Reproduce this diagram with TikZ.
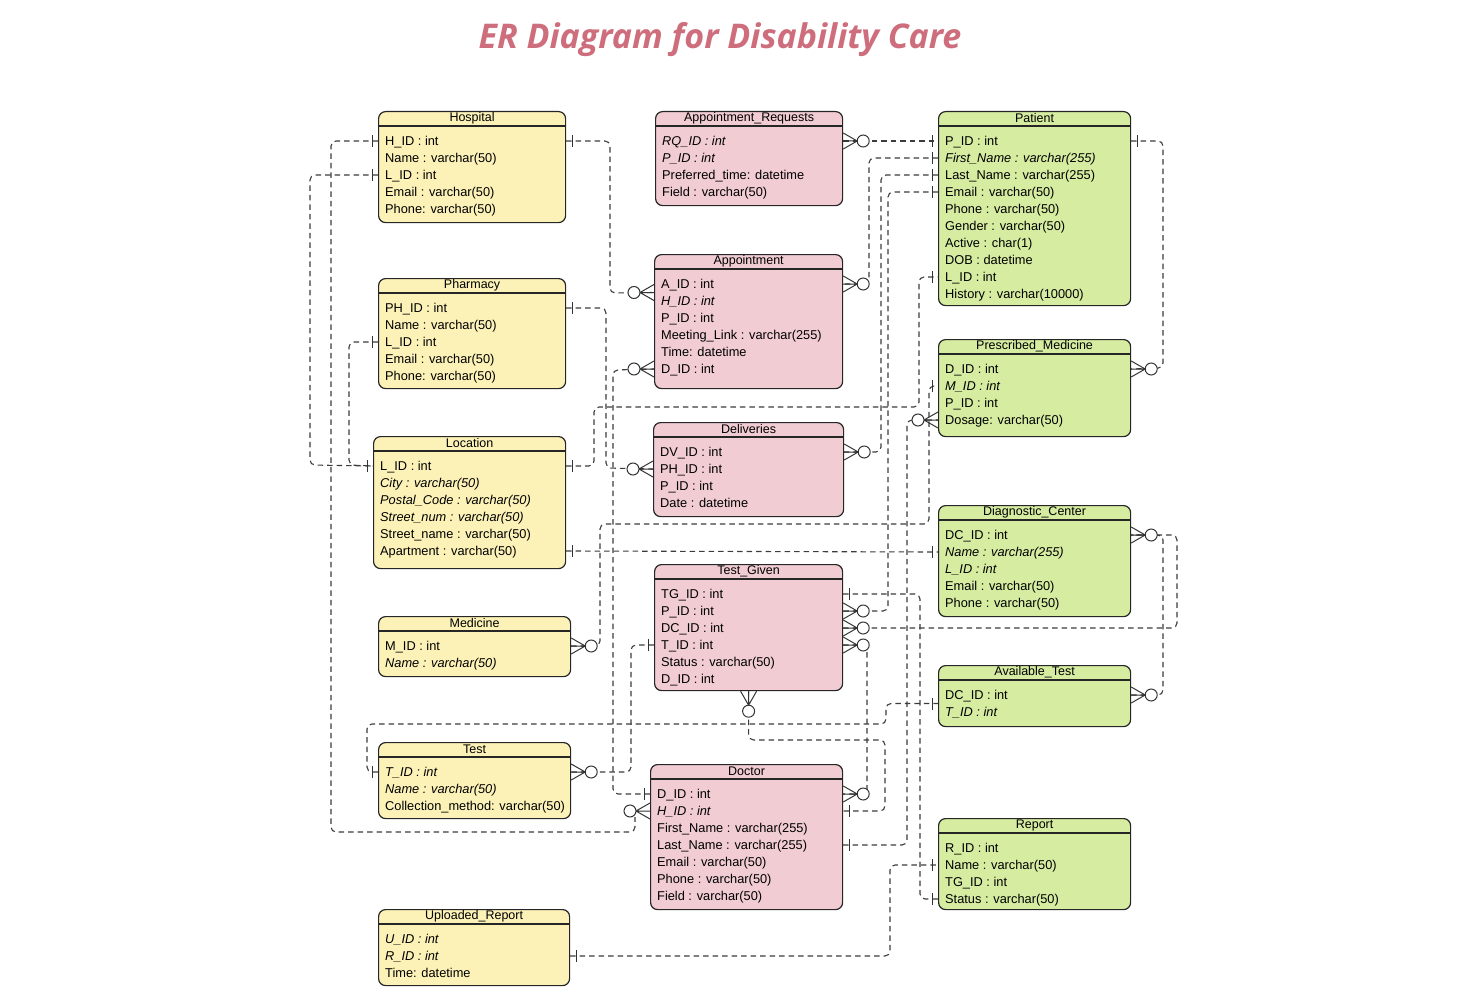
\documentclass[tikz,border=0pt]{standalone}
\usepackage{fontspec}
\setmainfont{Liberation Sans}
\newfontfamily\titlefont{Open Sans}
\usetikzlibrary{calc}
\definecolor{entyellow}{RGB}{252,242,184}
\definecolor{entpink}{RGB}{241,204,211}
\definecolor{entgreen}{RGB}{214,236,161}
\definecolor{titlered}{RGB}{206,110,124}
\definecolor{linkgray}{RGB}{60,60,60}
\tikzstyle{entity} = [rectangle, rounded corners=7pt, draw=black!85, line width=1.2pt, anchor=north west, inner sep=0pt]
\tikzstyle{entity title} = [font=\fontsize{12.5}{14}\selectfont, inner sep=0pt]
\tikzstyle{field} = [anchor=west, inner sep=0pt, text height=9.2pt, text depth=0pt, font=\fontsize{12.8}{15}\selectfont]
\tikzstyle{link} = [dash pattern=on 5.5pt off 4pt, draw=linkgray, line width=1.1pt, rounded corners=5pt]
\tikzset{
	pics/erone/.style={code={\draw[black!80, line width=1pt] (6,-6) -- (6,6);}},
	pics/ermany/.style={code={
		\draw[black!80, line width=1pt] (0,-8) -- (14,0) -- (0,8) (0,0) -- (14,0);
		\draw[black!80, line width=1pt, fill=white] (20,0) circle (6);
	}}
}
\newcommand\erentity[7]{%
	\node[entity, fill=#6, minimum width=#4pt, minimum height=#5pt] (#1) at (#2,#3) {};
	\draw[black!85, line width=1.2pt] ([yshift=-15pt]#1.north west) -- ([yshift=-15pt]#1.north east);
	\node[entity title] at ([yshift=-7.5pt]#1.north) {#7};
}
\newcommand\erfields[2]{%
	\foreach \f [count=\i] in {#2} {
		\pgfmathsetmacro\rowy{-30-17*(\i-1)}
		\node[field] (#1-\i) at ([xshift=7pt, yshift=\rowy pt]#1.north west) {\f};
	}
}

\begin{document}
\begin{tikzpicture}[x=1pt, y=-1pt]
\useasboundingbox (0,0) rectangle (1470,1006);
\node[font=\titlefont\bfseries\itshape\fontsize{34}{40}\selectfont, text=titlered] (title) at (720,40) {ER Diagram for Disability Care};

% Placement of entities (left column)
\erentity{hosp}{378}{111}{187}{111}{entyellow}{Hospital}
\erfields{hosp}{H\_ID : int, Name : varchar(50), L\_ID : int, Email : varchar(50), Phone: varchar(50)}
\erentity{pharm}{378}{278}{187}{110}{entyellow}{Pharmacy}
\erfields{pharm}{PH\_ID : int, Name : varchar(50), L\_ID : int, Email : varchar(50), Phone: varchar(50)}
\erentity{loc}{373}{436}{192}{132}{entyellow}{Location}
\erfields{loc}{L\_ID : int, \textit{City : varchar(50)}, \textit{Postal\_Code : varchar(50)}, \textit{Street\_num : varchar(50)}, Street\_name : varchar(50), Apartment : varchar(50)}
\erentity{medi}{378}{616}{192}{60}{entyellow}{Medicine}
\erfields{medi}{M\_ID : int, \textit{Name : varchar(50)}}
\erentity{test}{378}{742}{192}{76}{entyellow}{Test}
\erfields{test}{\textit{T\_ID : int}, \textit{Name : varchar(50)}, Collection\_method: varchar(50)}
\erentity{uprep}{378}{909}{191}{76}{entyellow}{Uploaded\_Report}
\erfields{uprep}{\textit{U\_ID : int}, \textit{R\_ID : int}, Time: datetime}

% middle column
\erentity{areq}{655}{111}{187}{94}{entpink}{Appointment\_Requests}
\erfields{areq}{\textit{RQ\_ID : int}, \textit{P\_ID : int}, Preferred\_time: datetime, Field : varchar(50)}
\erentity{appt}{654}{254}{188}{134}{entpink}{Appointment}
\erfields{appt}{A\_ID : int, \textit{H\_ID : int}, P\_ID : int, Meeting\_Link : varchar(255), Time: datetime, D\_ID : int}
\erentity{deliv}{653}{422}{190}{94}{entpink}{Deliveries}
\erfields{deliv}{DV\_ID : int, PH\_ID : int, P\_ID : int, Date : datetime}
\erentity{tgiven}{654}{564}{188}{126}{entpink}{Test\_Given}
\erfields{tgiven}{TG\_ID : int, P\_ID : int, DC\_ID : int, T\_ID : int, Status : varchar(50), D\_ID : int}
\erentity{doc}{650}{764}{192}{145}{entpink}{Doctor}
\erfields{doc}{D\_ID : int, \textit{H\_ID : int}, First\_Name : varchar(255), Last\_Name : varchar(255), Email : varchar(50), Phone : varchar(50), Field : varchar(50)}

% right column
\erentity{pat}{938}{111}{192}{194}{entgreen}{Patient}
\erfields{pat}{P\_ID : int, \textit{First\_Name : varchar(255)}, Last\_Name : varchar(255), Email : varchar(50), Phone : varchar(50), Gender : varchar(50), Active : char(1), DOB : datetime, L\_ID : int, History : varchar(10000)}
\erentity{pmed}{938}{339}{192}{97}{entgreen}{Prescribed\_Medicine}
\erfields{pmed}{D\_ID : int, \textit{M\_ID : int}, P\_ID : int, Dosage: varchar(50)}
\erentity{dcen}{938}{505}{192}{111}{entgreen}{Diagnostic\_Center}
\erfields{dcen}{DC\_ID : int, \textit{Name : varchar(255)}, \textit{L\_ID : int}, Email : varchar(50), Phone : varchar(50)}
\erentity{avtest}{938}{665}{192}{61}{entgreen}{Available\_Test}
\erfields{avtest}{DC\_ID : int, \textit{T\_ID : int}}
\erentity{rep}{938}{818}{192}{91}{entgreen}{Report}
\erfields{rep}{R\_ID : int, Name : varchar(50), TG\_ID : int, Status : varchar(50)}

% end points between two rows
\coordinate (apptH) at ($(appt.west |- appt-1)+(0,8.5)$);
\coordinate (avtestC) at ($(avtest.west |- avtest-1)+(0,8.5)$);
\coordinate (docH) at ($(doc.west |- doc-2)+(-15,6)$);

% Placement of edges
\draw[link] (hosp.west |- hosp-1) -| (331,832) -| (docH);
\draw[link] (hosp.east |- hosp-1) -| (610,293) -- (apptH);
\draw[link] (hosp.west |- hosp-3) -| (310,465) -- (loc.west |- loc-1);
\draw[link] (pharm.west |- pharm-3) -| (349,465) -- (loc.west |- loc-1);
\draw[link] (pharm.east |- pharm-1) -| (606,468) -- (deliv.west |- deliv-2);
\draw[link] (doc.west |- doc-1) -| (613,370) -- (appt.west |- appt-6);
\draw[link] (loc.east |- loc-1) -| (594,407) -| (919,277) -- (pat.west |- pat-9);
\draw[link] (medi.east |- medi-1) -| (600,524) -| (929,386) -- (pmed.west |- pmed-2);
\draw[link] (loc.east |- loc-6) -- (dcen.west |- dcen-2);
\draw[link] (areq.east |- areq-1) -- (pat.west |- pat-1);
\draw[link] (pat.west |- pat-2) -| (869,284) -- (appt.east |- appt-1);
\draw[link] (pat.west |- pat-3) -| (881,452) -- (deliv.east |- deliv-1);
\draw[link] (pat.west |- pat-4) -| (888,611) -- (tgiven.east |- tgiven-2);
\draw[link] (pat.east |- pat-1) -| (1163,368) -- (pmed.east |- pmed-1);
\draw[link] (doc.east |- doc-4) -| (907,420) -- (pmed.west |- pmed-4);
\draw[link] (tgiven.east |- tgiven-1) -| (920,899) -- (rep.west |- rep-4);
\draw[link] (tgiven.east |- tgiven-3) -| (1177,535) -- (dcen.east |- dcen-1);
\draw[link] (avtest.east |- avtest-1) -| (1163,535) -- (dcen.east |- dcen-1);
\draw[link] (tgiven.east |- tgiven-4) -| (867,794) -- (doc.east |- doc-1);
\draw[link] (tgiven.west |- tgiven-4) -| (631,772) -- (test.east |- test-1);
\draw[link] (tgiven.south) |- (885,740) |- (doc.east |- doc-2);
\draw[link] (test.west |- test-1) -| (367,724) -| (886,703.5) -- (avtestC);
\draw[link] (uprep.east |- uprep-2) -| (890,865) -- (rep.west |- rep-2);

% cardinality marks
\pic[rotate=180] at (hosp.west |- hosp-1) {erone};
\pic at (hosp.east |- hosp-1) {erone};
\pic[rotate=180] at (hosp.west |- hosp-3) {erone};
\pic[rotate=180] at (pharm.west |- pharm-3) {erone};
\pic at (pharm.east |- pharm-1) {erone};
\pic[rotate=180] at (loc.west |- loc-1) {erone};
\pic at (loc.east |- loc-1) {erone};
\pic at (loc.east |- loc-6) {erone};
\pic at (medi.east |- medi-1) {ermany};
\pic[rotate=180] at (test.west |- test-1) {erone};
\pic at (test.east |- test-1) {ermany};
\pic at (uprep.east |- uprep-2) {erone};
\pic at (areq.east |- areq-1) {ermany};
\pic[rotate=180] at (apptH) {ermany};
\pic[rotate=180] at (appt.west |- appt-6) {ermany};
\pic at (appt.east |- appt-1) {ermany};
\pic[rotate=180] at (deliv.west |- deliv-2) {ermany};
\pic at (deliv.east |- deliv-1) {ermany};
\pic at (tgiven.east |- tgiven-1) {erone};
\foreach \k in {2,3,4} \pic at (tgiven.east |- tgiven-\k) {ermany};
\pic[rotate=180] at (tgiven.west |- tgiven-4) {erone};
\pic[rotate=-90] at (tgiven.south) {ermany};
\pic[rotate=180] at (doc.west |- doc-1) {erone};
\pic[rotate=180] at (doc.west |- doc-2) {ermany};
\pic at (doc.east |- doc-1) {ermany};
\pic at (doc.east |- doc-2) {erone};
\pic at (doc.east |- doc-4) {erone};
\foreach \k in {1,2,3,4,9} \pic[rotate=180] at (pat.west |- pat-\k) {erone};
\pic at (pat.east |- pat-1) {erone};
\pic at (pmed.east |- pmed-1) {ermany};
\pic[rotate=180] at (pmed.west |- pmed-2) {erone};
\pic[rotate=180] at (pmed.west |- pmed-4) {ermany};
\pic[rotate=180] at (dcen.west |- dcen-2) {erone};
\pic at (dcen.east |- dcen-1) {ermany};
\pic at (avtest.east |- avtest-1) {ermany};
\pic[rotate=180] at (avtestC) {erone};
\pic[rotate=180] at (rep.west |- rep-2) {erone};
\pic[rotate=180] at (rep.west |- rep-4) {erone};

\end{tikzpicture}
\end{document}
